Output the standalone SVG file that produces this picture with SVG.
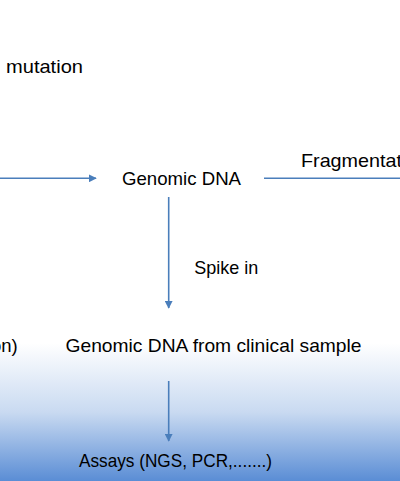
<svg xmlns="http://www.w3.org/2000/svg" width="400" height="481" viewBox="0 0 400 481">
<defs>
<linearGradient id="bg" x1="0" y1="0" x2="0" y2="1">
<stop offset="0" stop-color="#ffffff"/>
<stop offset="0.5" stop-color="#c9daf1"/>
<stop offset="1" stop-color="#5a8dd5"/>
</linearGradient>
<marker id="ah" viewBox="0 0 10 10" refX="9" refY="5" markerWidth="5" markerHeight="5" orient="auto" markerUnits="strokeWidth">
<path d="M0,0 L10,5 L0,10 Z" fill="#4a7ebb"/>
</marker>
<style>
.t{font-family:"Liberation Sans",Arial,sans-serif;font-size:18.5px;fill:#000}
.c{stroke:#4a7ebb;stroke-width:1.6;fill:none}
</style>
</defs>
<rect x="0" y="0" width="400" height="481" fill="#ffffff"/>
<rect x="0" y="343" width="400" height="138" fill="url(#bg)"/>
<g id="connectors">
<line class="c" x1="0" y1="178.3" x2="96" y2="178.3" marker-end="url(#ah)"/>
<line class="c" x1="264" y1="178.3" x2="400" y2="178.3"/>
<line class="c" x1="168.7" y1="197" x2="168.7" y2="308" marker-end="url(#ah)"/>
<line class="c" x1="168.7" y1="381" x2="168.7" y2="441" marker-end="url(#ah)"/>
</g>
<g id="mutation"><text class="t" x="6" y="73" textLength="77" lengthAdjust="spacingAndGlyphs">mutation</text></g>
<g id="genomic-dna"><text class="t" x="122" y="185" textLength="119" lengthAdjust="spacingAndGlyphs">Genomic DNA</text></g>
<g id="fragmentation"><text class="t" x="301" y="167" textLength="101" lengthAdjust="spacingAndGlyphs">Fragmentat</text></g>
<g id="spike-in"><text class="t" x="194.3" y="274" textLength="64" lengthAdjust="spacingAndGlyphs">Spike in</text></g>
<g id="on"><text class="t" x="-9" y="352">on)</text></g>
<g id="clinical"><text class="t" x="65.5" y="352" textLength="296" lengthAdjust="spacingAndGlyphs">Genomic DNA from clinical sample</text></g>
<g id="assays"><text class="t" x="79" y="467" textLength="193" lengthAdjust="spacingAndGlyphs">Assays (NGS, PCR,.......)</text></g>
</svg>
